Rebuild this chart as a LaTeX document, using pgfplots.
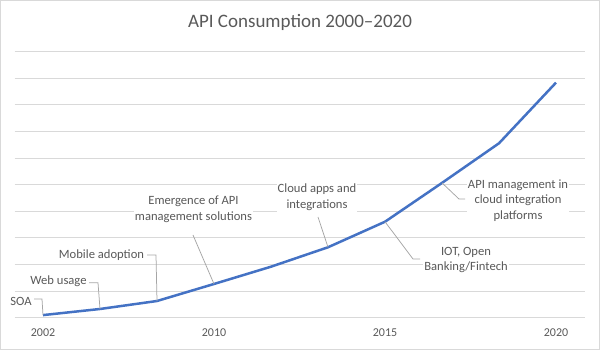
\documentclass[border=0pt]{standalone}
\usepackage{fontspec}
\setmainfont{Carlito}
\usepackage{pgfplots}
\pgfplotsset{compat=1.18}
\definecolor{linecol}{HTML}{4472C4}
\definecolor{txtgray}{HTML}{595959}
\definecolor{gridgray}{HTML}{D9D9D9}
\definecolor{leadgray}{HTML}{A6A6A6}
\begin{document}
\begin{tikzpicture}[x=1pt,y=1pt]
\useasboundingbox (0,0) rectangle (600,350);
\draw[draw=gridgray, line width=0.75pt] (0.5,0.5) rectangle (599.5,349.5);
\begin{axis}[
  at={(14.5pt,32.5pt)}, anchor=south west,
  scale only axis, width=570pt, height=266pt,
  xmin=-0.5, xmax=9.5, ymin=0, ymax=10,
  ytick={0,1,...,10}, yticklabels={},
  ymajorgrids, grid style={color=gridgray, line width=0.75pt},
  axis line style={draw=none},
  xtick={0,3,6,9}, xticklabels={2002,2010,2015,2020},
  major tick length=0pt,
  /pgf/number format/assume math mode=true,
  tick label style={font=\fontsize{12}{14}\selectfont, color=txtgray},
  xticklabel style={anchor=base, yshift=-19.5pt},
  clip=false,
]
\addplot[color=linecol, line width=2.5pt, line join=round, no markers] coordinates {
 (0,0.09) (1,0.32) (2,0.62) (3,1.26) (4,1.91) (5,2.64) (6,3.60) (7,5.06) (8,6.55) (9,8.83)
};
\coordinate (p0) at (axis cs:0,0.09);
\coordinate (p1) at (axis cs:1,0.32);
\coordinate (p2) at (axis cs:2,0.62);
\coordinate (p3) at (axis cs:3,1.26);
\coordinate (p5) at (axis cs:5,2.64);
\coordinate (p6) at (axis cs:6,3.60);
\coordinate (p7) at (axis cs:7,5.06);
\end{axis}
\node[font=\fontsize{19}{22}\selectfont, color=txtgray] at (300,327.3) {API Consumption 2000–2020};
% leader lines
\begin{scope}[draw=leadgray, line width=0.75pt]
\draw (34,51) -- (42,51) -- (p0);
\draw (89,67.3) -- (98,67.3) -- (p1);
\draw (147,95) -- (156,95) -- (p2);
\draw (193,115) -- (p3);
\draw (318,133) -- (p5);
\draw (p6) -- (413,91) -- (420,91);
\draw (p7) -- (459,151) -- (465,151);
\end{scope}
% labels
\begin{scope}[every node/.style={font=\fontsize{12.6}{15.8}\selectfont, text=txtgray, fill=white, inner sep=1pt, align=center}]
\node at (21,48.3) {SOA};
\node at (58.5,68.3) {Web usage};
\node at (101.5,95) {Mobile adoption};
\node at (193.5,141) {Emergence of API\\management solutions};
\node at (317,152.5) {Cloud apps and\\integrations};
\node at (466,90) {IOT, Open\\Banking/Fintech};
\node at (518,149.5) {API management in\\cloud integration\\platforms};
\end{scope}
\end{tikzpicture}
\end{document}
